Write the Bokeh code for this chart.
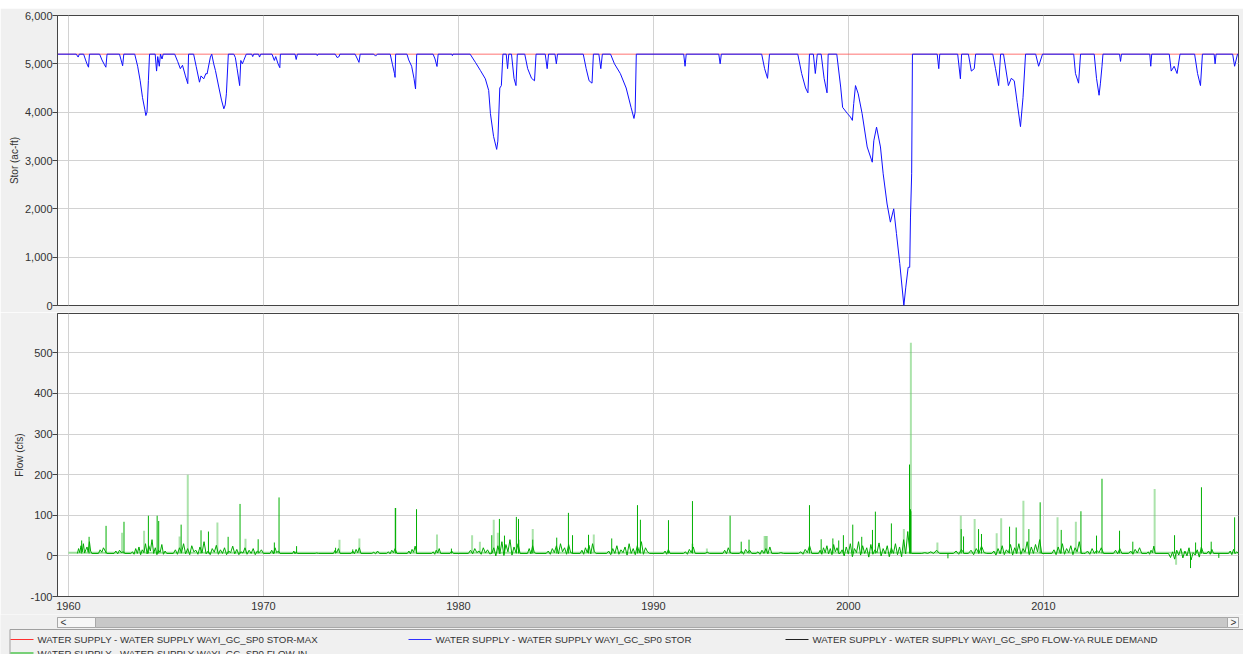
from bokeh.plotting import figure
from bokeh.layouts import column
from bokeh.models import Range1d, FixedTicker, NumeralTickFormatter, Spacer
from bokeh.embed import file_html
from bokeh.resources import INLINE
from bokeh.core.properties import value
import numpy as np

# ---------------- data ----------------
SERIES_NAMES = [
    "WATER SUPPLY - WATER SUPPLY WAYI_GC_SP0 STOR-MAX",
    "WATER SUPPLY - WATER SUPPLY WAYI_GC_SP0 STOR",
    "WATER SUPPLY - WATER SUPPLY WAYI_GC_SP0 FLOW-YA RULE DEMAND",
    "WATER SUPPLY - WATER SUPPLY WAYI_GC_SP0 FLOW-IN",
]
YEAR_TICKS = [1960, 1970, 1980, 1990, 2000, 2010]
STOR_TICKS = [0, 1000, 2000, 3000, 4000, 5000, 6000]
FLOW_TICKS = [-100, 0, 100, 200, 300, 400, 500]

stor_max_t = [1959.44, 2020.0]
stor_max_v = [5200, 5200]

stor_t = [1959.44, 1960.40, 1960.50, 1960.56, 1960.78, 1960.88, 1960.95, 1961.03, 1961.08,
          1961.60, 1961.72, 1961.85, 1961.92, 1961.98, 1962.62, 1962.70, 1962.78, 1962.84,
          1963.40, 1963.55, 1963.68, 1963.80, 1963.92, 1963.97, 1964.03, 1964.10, 1964.16,
          1964.45, 1964.52, 1964.58, 1964.66, 1964.72, 1964.80, 1964.86, 1965.45, 1965.60,
          1965.74, 1965.85, 1966.00, 1966.12, 1966.16, 1966.42, 1966.55, 1966.72, 1966.80,
          1966.94, 1967.05, 1967.11, 1967.28, 1967.35, 1967.45, 1967.54, 1967.71, 1967.85,
          1967.97, 1968.04, 1968.10, 1968.20, 1968.48, 1968.56, 1968.65, 1968.78, 1968.84,
          1968.92, 1968.99, 1969.12, 1969.40, 1969.45, 1969.50, 1969.75, 1969.80, 1969.86,
          1970.44, 1970.56, 1970.63, 1970.75, 1970.84, 1970.87, 1971.62, 1971.68, 1971.74,
          1972.73, 1972.76, 1972.80, 1973.68, 1973.78, 1973.88, 1973.92, 1974.70, 1974.82,
          1974.90, 1974.96, 1975.66, 1975.75, 1975.84, 1976.50, 1976.62, 1976.72, 1976.75,
          1976.78, 1977.36, 1977.45, 1977.60, 1977.72, 1977.80, 1977.86, 1978.70, 1978.80,
          1978.90, 1978.96, 1979.66, 1979.69, 1979.72, 1980.60, 1980.87, 1981.13, 1981.38,
          1981.55, 1981.64, 1981.80, 1981.92, 1981.96, 1982.02, 1982.12, 1982.20, 1982.28,
          1982.45, 1982.52, 1982.58, 1982.72, 1982.85, 1982.95, 1983.02, 1983.40, 1983.55,
          1983.75, 1983.90, 1983.98, 1984.45, 1984.55, 1984.62, 1984.95, 1985.02, 1985.08,
          1986.40, 1986.55, 1986.70, 1986.85, 1986.92, 1987.20, 1987.30, 1987.38, 1987.80,
          1988.00, 1988.30, 1988.60, 1988.85, 1989.00, 1989.06, 1989.12, 1991.55, 1991.62,
          1991.68, 1993.35, 1993.42, 1993.48, 1995.55, 1995.70, 1995.85, 1995.95, 1997.40,
          1997.60, 1997.80, 1997.92, 1998.00, 1998.20, 1998.30, 1998.40, 1998.60, 1998.75,
          1998.90, 1998.96, 1999.40, 1999.60, 1999.70, 1999.95, 2000.10, 2000.20, 2000.27,
          2000.36, 2000.50, 2000.70, 2000.96, 2001.22, 2001.30, 2001.44, 2001.64, 2001.78,
          2001.98, 2002.15, 2002.32, 2002.46, 2002.63, 2002.84, 2002.94, 2003.06, 2003.14,
          2003.18, 2003.24, 2003.28, 2004.55, 2004.63, 2004.68, 2005.60, 2005.74, 2005.80,
          2006.15, 2006.30, 2006.45, 2006.52, 2007.40, 2007.54, 2007.70, 2007.80, 2007.95,
          2008.20, 2008.35, 2008.50, 2008.65, 2008.82, 2008.95, 2009.08, 2009.60, 2009.75,
          2009.95, 2011.55, 2011.64, 2011.80, 2011.90, 2012.60, 2012.72, 2012.85, 2012.92,
          2013.00, 2013.05, 2013.90, 2013.95, 2014.00, 2015.45, 2015.50, 2015.55, 2016.45,
          2016.55, 2016.70, 2016.85, 2017.00, 2017.75, 2017.90, 2018.05, 2018.15, 2018.75,
          2018.80, 2018.85, 2019.70, 2019.80, 2019.95, 2020.00]
stor_v = [5200, 5200, 5140, 5200, 5200, 5080, 5000, 4930, 5200,
          5200, 5080, 4980, 4930, 5200, 5200, 5080, 4960, 5200,
          5200, 4950, 4650, 4300, 4050, 3930, 4000, 4650, 5200,
          5200, 4850, 5150, 4950, 5200, 5100, 5200, 5200, 5050,
          4900, 4970, 4750, 4590, 5200, 5200, 4950, 4620, 4750,
          4690, 4800, 4790, 5140, 5200, 5000, 4860, 4520, 4250,
          4070, 4150, 4380, 5200, 5200, 5130, 4900, 4550, 5070,
          5000, 5070, 5200, 5200, 5150, 5200, 5200, 5140, 5200,
          5200, 5070, 5150, 5000, 4920, 5200, 5200, 5090, 5200,
          5200, 5170, 5200, 5200, 5130, 5150, 5200, 5200, 5100,
          5030, 5200, 5200, 5160, 5200, 5200, 4980, 4800, 4720,
          5200, 5200, 5080, 4950, 4700, 4480, 5200, 5200, 5100,
          4945, 5200, 5200, 5170, 5200, 5200, 5030, 4860, 4690,
          4450, 3970, 3500, 3300, 3230, 3400, 4500, 4550, 5200,
          5200, 4900, 5200, 5200, 4700, 4550, 5200, 5200, 4900,
          4700, 4650, 5200, 5200, 4900, 5200, 5200, 5000, 5200,
          5200, 4900, 4650, 4600, 5200, 5200, 4900, 5200, 5200,
          5000, 4800, 4500, 4100, 3870, 4000, 5200, 5200, 4950,
          5200, 5200, 5000, 5200, 5200, 4900, 4700, 5200, 5200,
          4800, 4500, 4400, 5200, 5200, 4800, 5200, 5200, 4700,
          4400, 5200, 5200, 4520, 4100, 3970, 3900, 3830, 4180,
          4550, 4380, 3970, 3280, 2965, 3410, 3690, 3280, 2725,
          2100, 1725, 2000, 1490, 870, 0, 380, 790, 790,
          1830, 2725, 5200, 5200, 4900, 5200, 5200, 4690, 5200,
          5200, 4850, 4900, 5200, 5200, 4900, 4550, 5200, 5200,
          4550, 4700, 4650, 4200, 3700, 4300, 5200, 5200, 4950,
          5200, 5200, 4800, 4600, 5200, 5200, 4700, 4350, 4600,
          4950, 5200, 5200, 5050, 5200, 5200, 4950, 5200, 5200,
          4850, 4950, 4800, 5200, 5200, 4800, 4550, 5200, 5200,
          5000, 5200, 5200, 4950, 5200, 5200]

# dense low-flow periods (flow series, cfs): start year, end year, sampled values
cl_start = [1960.46, 1961.54, 1962.34, 1963.20, 1965.38, 1970.34, 1971.50, 1972.65, 1973.59,
            1974.50, 1975.56, 1976.32, 1977.38, 1978.63, 1979.57, 1980.51, 1981.71, 1983.54,
            1984.50, 1986.24, 1987.60, 1990.51, 1991.54, 1992.65, 1993.56, 1994.41, 1995.26,
            1996.40, 1997.44, 1998.46, 1999.57, 2003.76, 2005.38, 2006.15, 2007.35, 2010.43,
            2012.14, 2013.59, 2014.36, 2015.30, 2016.41, 2018.38, 2019.49]
cl_end = [1961.20, 1961.97, 1962.90, 1965.04, 1970.00, 1970.85, 1971.74, 1972.82, 1973.93,
          1975.00, 1975.95, 1976.84, 1977.86, 1979.09, 1979.74, 1981.71, 1983.16, 1983.98,
          1985.86, 1987.06, 1989.80, 1990.85, 1992.14, 1992.87, 1994.02, 1995.04, 1996.07,
          1996.67, 1998.12, 1999.50, 2003.25, 2004.67, 2005.93, 2007.09, 2009.91, 2012.05,
          2013.08, 2014.02, 2015.04, 2015.73, 2018.20, 2018.72, 2020.00]
cl_vals = [
    [6, 18, 8, 25, 10, 30, 7, 15, 22, 9, 35, 12, 6],
    [6, 15, 9, 20, 12, 6],
    [6, 12, 5, 14, 8, 10, 6],
    [6, 10, 4, 18, 6, 22, 3, 15, 8, 30, 5, 25, 12, 40, 6, 20, 3, 14, 9, 28, 4, 12, 6],
    [6, 15, 4, 20, 8, 30, 5, 18, 3, 25, 10, 14, 4, 22, 7, 35, 5, 12, 3, 18, 9, 26, 4, 15,
     6, 20, 3, 12, 8, 24, 5, 16, 3, 10, 7, 20, 4, 14, 6, 18, 3, 12, 8, 15, 6],
    [6, 14, 5, 20, 8, 12, 6],
    [6, 12, 5, 10, 6],
    [6, 7, 6],
    [6, 14, 8, 18, 6],
    [6, 12, 5, 16, 8, 20, 6],
    [6, 9, 5, 12, 6],
    [6, 10, 5, 14, 8, 18, 6],
    [6, 12, 5, 16, 9, 24, 6],
    [6, 10, 4, 14, 7, 18, 6],
    [6, 12, 6],
    [6, 14, 5, 18, 8, 12, 4, 20, 7, 15, 5, 6],
    [6, 20, 0, 25, 5, 35, 1, 28, 10, 40, 2, 22, 8, 30, 6],
    [6, 18, 5, 25, 8, 6],
    [6, 12, 4, 18, 8, 25, 5, 30, 10, 20, 4, 28, 8, 6],
    [6, 14, 4, 20, 8, 26, 5, 30, 10, 6],
    [6, 12, 3, 18, 6, 25, 4, 15, 8, 22, 2, 30, 6, 18, 3, 25, 8, 35, 4, 20, 10, 6],
    [6, 12, 4, 16, 6],
    [6, 10, 4, 16, 8, 22, 6],
    [6, 9, 6],
    [6, 14, 5, 20, 9, 6],
    [6, 12, 4, 16, 8, 14, 6],
    [6, 10, 4, 14, 6, 18, 5, 22, 6],
    [6, 8, 6],
    [6, 10, 4, 16, 8, 25, 6],
    [6, 14, 4, 20, 8, 25, 5, 18, 3, 28, 10, 20, 6],
    [6, 15, 0, 22, 5, 30, -2, 18, 8, 35, 2, 25, 6, 20, -3, 28, 4, 15, 8, 32, 0, 18, 5, 25,
     -2, 20, 6, 30, 3, 22, -2, 40, 5, 60, 10, 6],
    [6, 8, 6, 10, 6, 14, 6],
    [6, 12, 4, 16, 6],
    [6, 14, 3, 18, 6, 24, 8, 6],
    [6, 12, 2, 18, 5, 25, 3, 15, 8, 28, 2, 20, 6, 30, 4, 18, 9, 35, 3, 22, 6, 28, 10, 40, 6],
    [6, 15, 3, 22, 6, 30, 4, 18, 8, 25, 3, 20, 10, 35, 6, 6],
    [6, 12, 4, 18, 6, 14, 8, 20, 6],
    [6, 14, 5, 18, 6],
    [6, 12, 4, 16, 7, 20, 6],
    [6, 10, 4, 14, 8, 24, 6],
    [6, -4, 10, -8, 14, 2, 18, -5, 12, 0, 20, -10, 8, 2, 15, -3, 22, 6],
    [6, 12, 4, 16, 6],
    [6, 12, 3, 16, 6, 10, 6],
]

# isolated peaks of the flow series (dark green)
peak_t = [1960.68, 1961.06, 1961.93, 1962.85, 1964.10, 1964.55, 1964.63, 1965.78, 1966.80,
          1967.18, 1968.19, 1968.80, 1969.73, 1970.56, 1970.80, 1971.70, 1973.70, 1974.58,
          1976.77, 1977.85, 1979.64, 1981.71, 1982.10, 1982.36, 1982.97, 1983.08, 1983.81,
          1985.04, 1985.64, 1985.85, 1986.67, 1987.86, 1989.18, 1989.33, 1990.77, 1992.00,
          1993.93, 1994.50, 1994.90, 1998.00, 1998.60, 1999.20, 1999.50, 1999.74, 2000.22,
          2000.68, 2001.23, 2001.38, 2002.20, 2003.13, 2003.16, 2003.18, 2003.20, 2005.10,
          2005.78, 2005.90, 2006.67, 2006.82, 2008.26, 2008.60, 2009.25, 2009.83, 2010.91,
          2011.92, 2012.72, 2013.00, 2013.90, 2014.58, 2016.72, 2017.54, 2017.80, 2018.10,
          2018.60, 2018.99, 2019.80]
peak_v = [38, 47, 74, 84, 99, 99, 86, 77, 63,
          60, 47, 128, 41, 33, 144, 24, 20, 16,
          118, 115, 18, 51, 91, 50, 96, 91, 40,
          45, 106, 51, 52, 43, 125, 89, 88, 135,
          99, 35, 40, 125, 41, 43, 38, 51, 77,
          47, 64, 109, 80, 225, 112, 115, 110, -6,
          66, 48, 66, 54, 72, 70, 66, 132, 64,
          110, 50, 190, 62, 35, 51, -30, 33, 169,
          35, -5, 95]

# FLOW-IN peaks (light green)
inflow_t = [1962.75, 1963.88, 1965.70, 1966.12, 1967.64, 1969.08, 1973.90, 1974.92, 1976.77,
            1978.90, 1980.70, 1981.10, 1981.81, 1982.02, 1983.10, 1983.81, 1986.94, 1992.00,
            1992.74, 1995.70, 1995.76, 1995.82, 2002.84, 2003.20, 2004.56, 2005.76, 2006.47,
            2007.60, 2007.83, 2008.97, 2010.72, 2011.66, 2015.70, 2016.80]
inflow_v = [57, 62, 48, 200, 82, 42, 40, 43, 118,
            53, 51, 35, 89, 57, 40, 66, 53, 30,
            18, 49, 49, 49, 66, 525, 33, 99, 91,
            56, 93, 136, 95, 84, 165, -22]
inflow_base_t = [1960.0, 2020.0]
inflow_base_v = [8, 8]

# ---------------- styling ----------------
BG = "#f0f0f0"
AXIS = "#444444"
GRID = "#d2d2d2"
FONT = "Liberation Sans"
W = 1243
xr = Range1d(1959.44, 2020.0)


def style(p):
    p.background_fill_color = "white"
    p.border_fill_color = BG
    p.outline_line_color = AXIS
    p.outline_line_width = 1
    p.xgrid.ticker = FixedTicker(ticks=YEAR_TICKS)
    p.grid.grid_line_color = GRID
    p.grid.grid_line_width = 1
    ax = p.yaxis[0]
    ax.axis_line_color = AXIS
    ax.major_tick_line_color = AXIS
    ax.major_tick_out = 5
    ax.major_tick_in = 0
    ax.minor_tick_out = 0
    ax.minor_tick_in = 0
    ax.major_label_text_font = FONT
    ax.major_label_text_font_size = "11px"
    ax.major_label_text_color = "#333333"
    ax.major_label_standoff = 0
    ax.axis_label_text_font = FONT
    ax.axis_label_text_font_size = "10px"
    ax.axis_label_text_font_style = "normal"
    ax.axis_label_text_color = "#333333"
    ax.axis_label_standoff = 2
    ax.formatter = NumeralTickFormatter(format="0,0")


p1 = figure(width=W, height=304, x_range=xr, y_range=Range1d(0, 6000),
            x_axis_location=None, toolbar_location=None, output_backend="svg",
            min_border_left=57, min_border_right=5, min_border_top=7, min_border_bottom=7,
            y_axis_label="Stor (ac-ft)")
style(p1)
p1.yaxis.ticker = FixedTicker(ticks=STOR_TICKS)
p1.line(stor_max_t, stor_max_v, line_color="#ff5050", line_width=1, line_alpha=0.8)
p1.line(stor_t, stor_v, line_color="#1010ff", line_width=1)

p2 = figure(width=W, height=302, x_range=xr, y_range=Range1d(-100, 597),
            toolbar_location=None, output_backend="svg",
            min_border_left=57, min_border_right=5, min_border_top=1, min_border_bottom=18,
            y_axis_label="Flow (cfs)")
style(p2)
p2.yaxis.ticker = FixedTicker(ticks=FLOW_TICKS)
xa = p2.xaxis[0]
xa.ticker = FixedTicker(ticks=YEAR_TICKS)
xa.axis_line_color = AXIS
xa.major_tick_out = 0
xa.major_tick_in = 0
xa.minor_tick_out = 0
xa.minor_tick_in = 0
xa.major_label_text_font = FONT
xa.major_label_text_font_size = "11px"
xa.major_label_text_color = "#333333"
xa.major_label_standoff = 5

# flow-in baseline and peaks (light green)
p2.line(inflow_base_t, inflow_base_v, line_color="#7fd67f", line_width=2, line_alpha=0.8)
p2.segment(x0=inflow_t, y0=[8] * len(inflow_t), x1=inflow_t, y1=inflow_v,
           line_color="#66cc66", line_width=2, line_alpha=0.55)

# dense flow line
flow_t, flow_v = [], []
for s, e, vals in zip(cl_start, cl_end, cl_vals):
    flow_t.extend(np.linspace(s, e, len(vals)).tolist())
    flow_v.extend(vals)
p2.line(flow_t, flow_v, line_color="#00aa00", line_width=1)
p2.segment(x0=peak_t, y0=[6] * len(peak_t), x1=peak_t, y1=peak_v,
           line_color="#00b000", line_width=1)

# ---------------- scrollbar + legend strip (separate root, page pixel coords) ----------------
p3 = figure(width=W, height=40, x_range=Range1d(0, W), y_range=Range1d(0, 40),
            x_axis_location=None, y_axis_location=None, toolbar_location=None,
            output_backend="svg", min_border=0)
p3.grid.visible = False
p3.outline_line_color = None
p3.background_fill_color = BG
p3.border_fill_color = BG
# scrollbar
p3.quad(left=[57], right=[1238], bottom=[27], top=[37], fill_color="#c8c8c8",
        line_color="#a8a8a8", line_width=1)
p3.quad(left=[57, 1227], right=[95, 1238], bottom=[27, 27], top=[37, 37],
        fill_color="#f6f6f6", line_color="#a8a8a8", line_width=1)
p3.text(x=[60, 1230], y=[32, 32], text=["<", ">"], text_font=value(FONT),
        text_font_size=value("10px"), text_baseline="middle", text_color="#333333")
# legend box
p3.quad(left=[9.5], right=[1260], bottom=[-10], top=[25], fill_color=BG,
        line_color="#a0a0a0", line_width=1)
leg_x = [10, 408, 785, 10]
leg_y = [15, 15, 15, 1.5]
leg_col = ["#ff3030", "#3030ff", "#202020", "#00b000"]
p3.segment(x0=leg_x, y0=leg_y, x1=[v + 23 for v in leg_x], y1=leg_y, line_color=leg_col,
           line_width=1)
p3.text(x=[v + 27 for v in leg_x], y=leg_y, text=SERIES_NAMES, text_font=value(FONT),
        text_font_size=value("9.7px"), text_baseline="middle", text_color="#333333")

top = column(Spacer(height=8, width=W), p1, p2, spacing=0)
open("out.html", "w").write(file_html([top, p3], INLINE))
